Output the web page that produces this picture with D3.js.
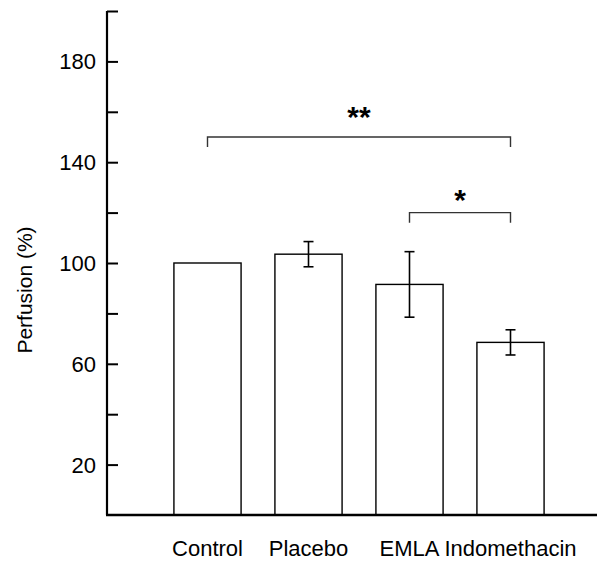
<!DOCTYPE html>
<html>
<head>
<meta charset="utf-8">
<script src="https://cdn.jsdelivr.net/npm/d3@7"></script>
<style>
  body { margin: 0; background: #fff; }
  text { font-family: "Liberation Sans", Arial, sans-serif; fill: #000; }
</style>
</head>
<body>
<div id="chart"></div>
<script>
// data
var groups = ["Control", "Placebo", "EMLA", "Indomethacin"];
var means = [100, 103.5, 91.5, 68.5];
var errors = [0, 5, 13, 5];
var yTicks = [20, 40, 60, 80, 100, 120, 140, 160, 180, 200];
var yTickLabels = [20, 60, 100, 140, 180];

// significance brackets
var bracketFrom = ["Control", "EMLA"];
var bracketTo = ["Indomethacin", "Indomethacin"];
var bracketLevel = [150, 120];
var starLevel = [159.5, 126.5];
var bracketStars = ["**", "*"];

var svgWidth = 601;
var svgHeight = 562;
var axisX = 107;
var axisBottom = 515;

var svg = d3.select("#chart")
  .append("svg")
  .attr("width", svgWidth)
  .attr("height", svgHeight);

var yScale = d3.scaleLinear()
  .domain([0, 200])
  .range([axisBottom, 11]);

var xScale = d3.scaleBand()
  .domain(groups)
  .range([157, 561])
  .paddingInner(0.335)
  .paddingOuter(0.1675);

// bars
svg.selectAll(".bar")
  .data(groups)
  .enter()
  .append("rect")
  .attr("class", "bar")
  .attr("x", function(d) { return xScale(d); })
  .attr("y", function(d, i) { return yScale(means[i]); })
  .attr("width", xScale.bandwidth())
  .attr("height", function(d, i) { return yScale(0) - yScale(means[i]); })
  .attr("fill", "#fff")
  .attr("stroke", "#000")
  .attr("stroke-width", 1.4);

// error bars
var capW = 5;
groups.forEach(function(g, i) {
  if (errors[i] == 0) return;
  var cx = xScale(g) + xScale.bandwidth() / 2;
  var top = yScale(means[i] + errors[i]);
  var bot = yScale(means[i] - errors[i]);
  var eb = svg.append("g").attr("stroke", "#000").attr("stroke-width", 1.6);
  eb.append("line").attr("x1", cx).attr("x2", cx).attr("y1", top).attr("y2", bot);
  eb.append("line").attr("x1", cx - capW).attr("x2", cx + capW).attr("y1", top).attr("y2", top);
  eb.append("line").attr("x1", cx - capW).attr("x2", cx + capW).attr("y1", bot).attr("y2", bot);
});

// y axis, ticks pointing inward
var yAxis = d3.axisRight(yScale)
  .tickValues(yTicks)
  .tickSize(11)
  .tickFormat("");

var gY = svg.append("g")
  .attr("transform", "translate(" + axisX + ",0)")
  .call(yAxis);
gY.select(".domain").remove();
gY.selectAll(".tick line").attr("stroke", "#000").attr("stroke-width", 2);
gY.append("line")
  .attr("x1", 0).attr("x2", 0)
  .attr("y1", yScale(200)).attr("y2", axisBottom)
  .attr("stroke", "#000").attr("stroke-width", 2.2);

svg.selectAll(".ylab")
  .data(yTickLabels)
  .enter()
  .append("text")
  .attr("class", "ylab")
  .attr("x", axisX - 11)
  .attr("y", function(d) { return yScale(d); })
  .attr("dy", "0.36em")
  .attr("text-anchor", "end")
  .style("font-size", "22px")
  .text(function(d) { return d; });

// x axis
svg.append("line")
  .attr("x1", axisX - 1).attr("x2", 597)
  .attr("y1", axisBottom).attr("y2", axisBottom)
  .attr("stroke", "#000")
  .attr("stroke-width", 2.6);

svg.selectAll(".xlab")
  .data(groups)
  .enter()
  .append("text")
  .attr("class", "xlab")
  .attr("x", function(d) { return xScale(d) + xScale.bandwidth() / 2; })
  .attr("y", 556)
  .attr("text-anchor", "middle")
  .style("font-size", "22px")
  .text(function(d) { return d; });

// axis title
svg.append("text")
  .attr("transform", "translate(32,290) rotate(-90)")
  .attr("text-anchor", "middle")
  .style("font-size", "21px")
  .text("Perfusion (%)");

// brackets
bracketFrom.forEach(function(f, i) {
  var x1 = xScale(f) + xScale.bandwidth() / 2;
  var x2 = xScale(bracketTo[i]) + xScale.bandwidth() / 2;
  var yb = yScale(bracketLevel[i]);
  var drop = yScale(bracketLevel[i] - 4) - yb;
  svg.append("path")
    .attr("d", "M" + x1 + "," + (yb + drop) + "V" + yb + "H" + x2 + "V" + (yb + drop))
    .attr("fill", "none")
    .attr("stroke", "#333")
    .attr("stroke-width", 1.4);
  svg.append("text")
    .attr("x", (x1 + x2) / 2)
    .attr("y", yScale(starLevel[i]) + 14)
    .attr("text-anchor", "middle")
    .style("font-size", "30px")
    .style("font-weight", "bold")
    .text(bracketStars[i]);
});
</script>
</body>
</html>
